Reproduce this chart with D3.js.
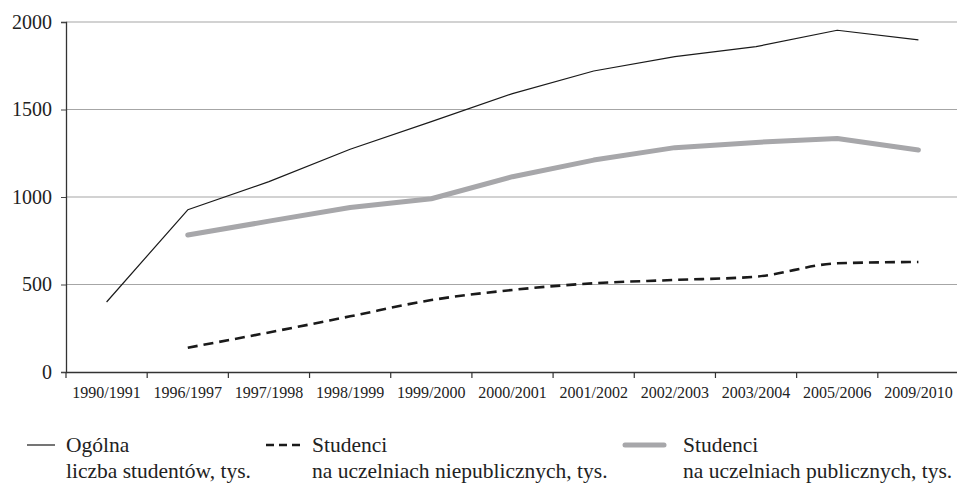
<!DOCTYPE html>
<html>
<head>
<meta charset="utf-8">
<script src="https://cdn.jsdelivr.net/npm/d3@7"></script>
<style>
  body { margin: 0; background: #fff; }
</style>
</head>
<body>
<svg id="chart" width="957" height="485"></svg>
<script>
// categories (school years)
var years = ['1990/1991', '1996/1997', '1997/1998', '1998/1999', '1999/2000',
             '2000/2001', '2001/2002', '2002/2003', '2003/2004', '2005/2006', '2009/2010'];

// series values, thousands of students (null = no data)
var total      = [400, 927, 1088, 1273, 1431, 1591, 1720, 1802, 1859, 1953, 1898];
var publicUni  = [null, 783, 862, 940, 990, 1116, 1211, 1282, 1312, 1334, 1269];
var privateUni = [null, 139, 226, 318, 411, 469, 507, 526, 545, 621, 629];

var yTicks = [0, 500, 1000, 1500, 2000];

var legendItems = [
    { key: 'total',   line1: 'Ogólna',   line2: 'liczba studentów, tys.' },
    { key: 'private', line1: 'Studenci', line2: 'na uczelniach niepublicznych, tys.' },
    { key: 'public',  line1: 'Studenci', line2: 'na uczelniach publicznych, tys.' }
];

var FONT = '"Liberation Serif", "Times New Roman", serif';

var styles = {
    total:   { stroke: '#1a1a1a', width: 1.2, dash: null },
    private: { stroke: '#1a1a1a', width: 2.6, dash: '10,6' },
    public:  { stroke: '#a7a7aa', width: 5, dash: null }
};

var svg = d3.select('#chart'),
    margin = { left: 66, top: 22, bottom: 113 },
    width = 959 - margin.left,
    height = 485 - margin.top - margin.bottom;

var g = svg.append('g').attr('transform', 'translate(' + margin.left + ',' + margin.top + ')');

var x = d3.scaleBand().domain(years).range([0, width]);
var y = d3.scaleLinear().domain([0, 2000]).range([height, 0]);

// gridlines
g.selectAll('.grid')
    .data(yTicks.filter(function (d) { return d > 0; }))
    .enter()
    .append('line')
    .attr('x1', 0)
    .attr('x2', width)
    .attr('y1', function (d) { return y(d); })
    .attr('y2', function (d) { return y(d); })
    .attr('stroke', '#a6a6a6')
    .attr('stroke-width', 1.2);

// y axis
var yAxis = g.append('g')
    .call(d3.axisLeft(y).tickValues(yTicks).tickSize(5).tickPadding(9).tickFormat(d3.format('d')));
yAxis.select('.domain').attr('stroke', '#333').attr('stroke-width', 1.3);
yAxis.selectAll('.tick line').attr('stroke', '#444');
yAxis.selectAll('text')
    .style('font-family', FONT)
    .style('font-size', '20px')
    .attr('fill', '#222');

// x axis, ticks at band edges
var xAxis = g.append('g')
    .attr('transform', 'translate(0,' + height + ')')
    .call(d3.axisBottom(x).tickSize(0));
xAxis.select('.domain').attr('stroke', '#333').attr('stroke-width', 1.3);
xAxis.selectAll('text')
    .attr('y', 26)
    .attr('dy', null)
    .style('font-family', FONT)
    .style('font-size', '16px')
    .attr('fill', '#222');

g.selectAll('.xtick')
    .data(years)
    .enter()
    .append('line')
    .attr('x1', function (d) { return x(d); })
    .attr('x2', function (d) { return x(d); })
    .attr('y1', height)
    .attr('y2', height + 6)
    .attr('stroke', '#333')
    .attr('stroke-width', 1.2);

function lineFor(values, curve) {
    return d3.line()
        .defined(function (d) { return d != null; })
        .x(function (d, i) { return x(years[i]) + x.bandwidth() / 2; })
        .y(function (d) { return y(d); })
        .curve(curve)(values);
}

var series = [
    { key: 'public', values: publicUni, curve: d3.curveLinear },
    { key: 'private', values: privateUni, curve: d3.curveMonotoneX },
    { key: 'total', values: total, curve: d3.curveLinear }
];

series.forEach(function (s) {
    var st = styles[s.key];
    g.append('path')
        .attr('d', lineFor(s.values, s.curve))
        .attr('fill', 'none')
        .attr('stroke', st.stroke)
        .attr('stroke-width', st.width)
        .attr('stroke-linejoin', 'round')
        .attr('stroke-linecap', s.key === 'public' ? 'round' : 'butt')
        .attr('stroke-dasharray', st.dash);
});

// legend
var legendSym = {
    total:   { x1: 27, x2: 55, text: 66, dash: null },
    private: { x1: 266, x2: 300, text: 312, dash: '8,5' },
    public:  { x1: 625, x2: 664, text: 683, dash: null }
};
var legend = svg.append('g');
legendItems.forEach(function (item) {
    var st = styles[item.key],
        sym = legendSym[item.key];
    legend.append('line')
        .attr('x1', sym.x1)
        .attr('x2', sym.x2)
        .attr('y1', 445)
        .attr('y2', 445)
        .attr('stroke', st.stroke)
        .attr('stroke-width', st.width)
        .attr('stroke-linecap', item.key === 'public' ? 'round' : 'butt')
        .attr('stroke-dasharray', sym.dash);
    [item.line1, item.line2].forEach(function (t, j) {
        legend.append('text')
            .attr('x', sym.text)
            .attr('y', 452 + j * 26)
            .style('font-family', FONT)
            .style('font-size', '21.5px')
            .attr('fill', '#222')
            .text(t);
    });
});
</script>
</body>
</html>
